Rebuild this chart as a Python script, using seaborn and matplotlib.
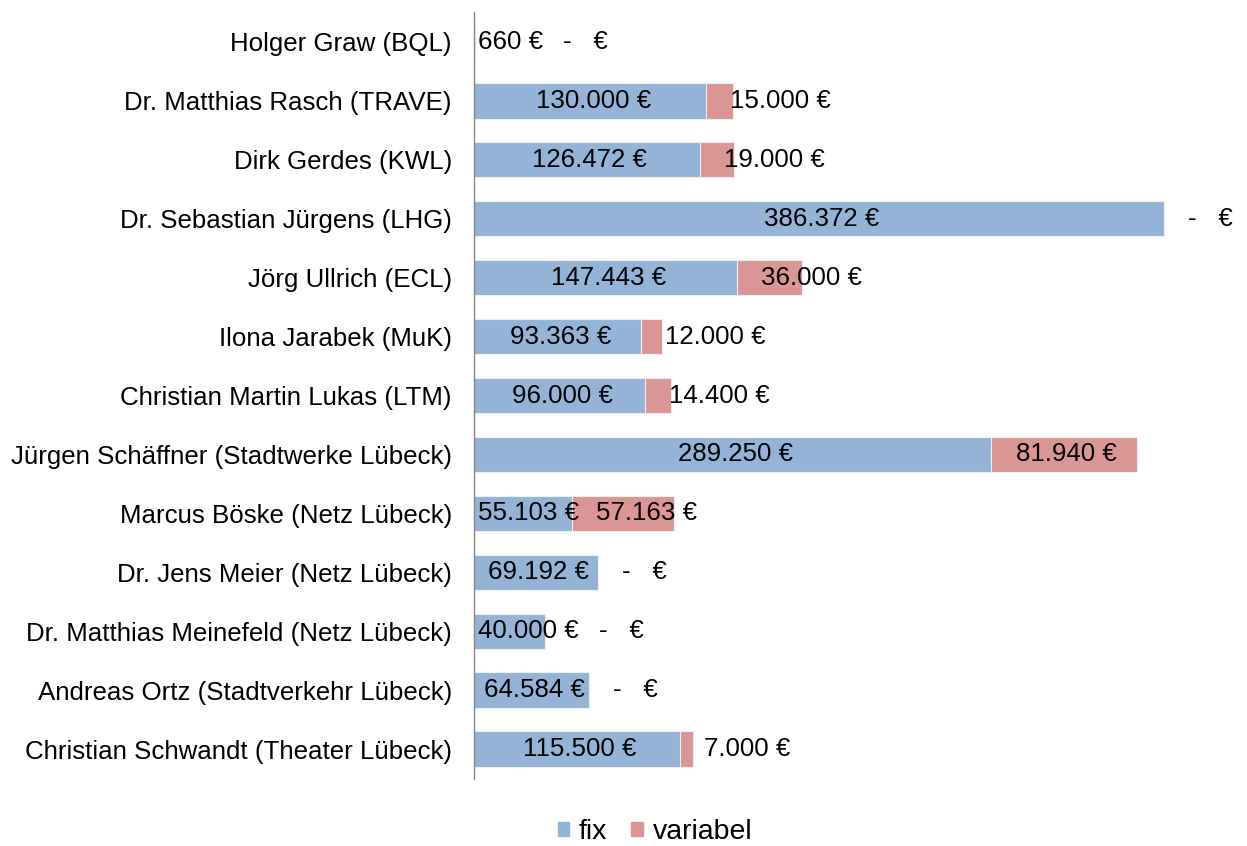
import numpy as np
import pandas as pd
import matplotlib
matplotlib.use("Agg")
import matplotlib.pyplot as plt
import seaborn as sns

names = ["Holger Graw (BQL)",
         "Dr. Matthias Rasch (TRAVE)",
         "Dirk Gerdes (KWL)",
         "Dr. Sebastian Jürgens (LHG)",
         "Jörg Ullrich (ECL)",
         "Ilona Jarabek (MuK)",
         "Christian Martin Lukas (LTM)",
         "Jürgen Schäffner (Stadtwerke Lübeck)",
         "Marcus Böske (Netz Lübeck)",
         "Dr. Jens Meier (Netz Lübeck)",
         "Dr. Matthias Meinefeld (Netz Lübeck)",
         "Andreas Ortz (Stadtverkehr Lübeck)",
         "Christian Schwandt (Theater Lübeck)"]
fix = [660, 130000, 126472, 386372, 147443, 93363, 96000, 289250, 55103, 69192, 40000, 64584, 115500]
variabel = [0, 15000, 19000, 0, 36000, 12000, 14400, 81940, 57163, 0, 0, 0, 7000]

blue = "#95b3d7"
pink = "#d99694"

sns.set_style("white")
plt.rcParams["font.family"] = ["Liberation Sans", "DejaVu Sans"]
plt.rcParams["font.size"] = 18.6
plt.rcParams["text.color"] = "black"
plt.rcParams["ytick.labelcolor"] = "black"

df = pd.DataFrame({"name": names, "fix": fix, "variabel": variabel})
df["gesamt"] = df["fix"] + df["variabel"]

fig = plt.figure(figsize=(12.47, 8.46), dpi=100)
ax = fig.add_axes([474 / 1247, 1 - 778.5 / 846, (1239 - 474) / 1247, (778.5 - 12.5) / 846])

# stacked: total bar in pink underneath, fix bar in blue on top
sns.barplot(data=df, x="gesamt", y="name", color=pink, width=0.6, saturation=1,
            edgecolor="#f0f0f0", linewidth=0.8, ax=ax)
sns.barplot(data=df, x="fix", y="name", color=blue, width=0.6, saturation=1,
            edgecolor="#f0f0f0", linewidth=0.8, ax=ax)

ax.set_xlim(0, 428400)
ax.set_ylim(len(names) - 0.5, -0.5)
ax.set_xlabel("")
ax.set_ylabel("")
ax.set_xticks([])
for s in ["top", "right", "bottom"]:
    ax.spines[s].set_visible(False)
ax.spines["left"].set_color("#868686")
ax.spines["left"].set_linewidth(1.0)
ax.tick_params(axis="y", which="major", length=0, pad=16, labelcolor="black")
ax.set_yticks(np.arange(len(names) + 1) - 0.5, minor=True)
ax.tick_params(axis="y", which="minor", length=7.5, color="#868686", width=1.0)


def euro(v):
    if v == 0:
        return "-   €"
    return f"{v:,.0f} €".replace(",", ".")


fig.canvas.draw()
renderer = fig.canvas.get_renderer()
to_px = lambda v: ax.transData.transform((v, 0))[0]
to_x = lambda p: ax.transData.inverted().transform((p, 0))[0]
x0 = to_px(0)

for i in range(len(names)):
    # fix label, centred, kept right of the axis
    t = ax.text(0, i, euro(fix[i]), ha="center", va="center", color="black")
    w = t.get_window_extent(renderer).width
    c = to_px(fix[i] / 2) + 3
    if c - w / 2 < x0 + 4:
        c = x0 + 4 + w / 2
    t.set_x(to_x(c))
    end = c + w / 2

    # variable label
    t2 = ax.text(0, i, euro(variabel[i]), ha="left", va="center", color="black")
    w2 = t2.get_window_extent(renderer).width
    s = to_px(fix[i])
    e = to_px(fix[i] + variabel[i])
    if variabel[i] > 0 and e - s > w2 + 6:
        left = (s + e) / 2 + 3 - w2 / 2
    else:
        left = max(s + 24, end + (20 if variabel[i] == 0 else 12))
    t2.set_x(to_x(left))

handles = [plt.Rectangle((0, 0), 1, 1, color=blue), plt.Rectangle((0, 0), 1, 1, color=pink)]
fig.legend(handles, ["fix", "variabel"], loc="center", bbox_to_anchor=(655 / 1247, 1 - 832 / 846),
           ncol=2, frameon=False, handlelength=0.4, handleheight=0.4, handletextpad=0.35,
           columnspacing=0.85, labelcolor="black", fontsize=20.5)

fig.savefig("out.png", dpi=100)
